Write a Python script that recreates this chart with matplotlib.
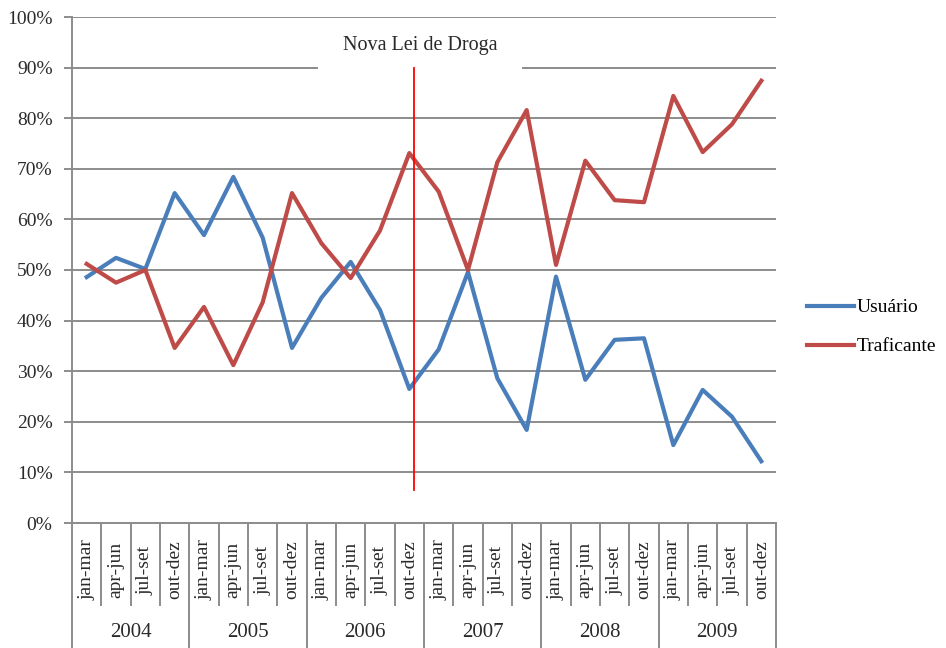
import numpy as np
import matplotlib
matplotlib.use("Agg")
import matplotlib.pyplot as plt
from matplotlib.patches import Rectangle
from matplotlib.transforms import blended_transform_factory

# data (percent)
years = ["2004", "2005", "2006", "2007", "2008", "2009"]
quarters = ["jan-mar", "apr-jun", "jul-set", "out-dez"]
usuario = [48.6, 52.4, 50.2, 65.2, 56.9, 68.4, 56.4, 34.6,
           44.5, 51.6, 42.1, 26.5, 34.3, 49.6, 28.6, 18.4,
           48.7, 28.3, 36.2, 36.5, 15.4, 26.3, 21.0, 12.2]
traficante = [51.2, 47.5, 50.0, 34.6, 42.7, 31.2, 43.6, 65.2,
              55.3, 48.4, 57.8, 73.1, 65.5, 50.0, 71.3, 81.6,
              51.0, 71.6, 63.8, 63.4, 84.4, 73.3, 78.8, 87.4]
yticks = [0, 10, 20, 30, 40, 50, 60, 70, 80, 90, 100]
law_label = "Nova Lei de Droga"
law_pos = 11.16  # just after out-dez 2006

plt.rcParams["font.family"] = ["Liberation Serif", "DejaVu Serif"]
grid_col = "#8c8c8c"
txt_col = "#2a2a2a"

fig = plt.figure(figsize=(9.46, 6.48), dpi=100)
ax = fig.add_axes([72 / 946, 125 / 648, 704 / 946, 506 / 648])

x = np.arange(len(usuario))
ax.plot(x, usuario, color="#4a7ebb", lw=3, label="Usuário", zorder=3)
ax.plot(x, traficante, color="#be4b48", lw=3, label="Traficante", zorder=3)

ax.set_xlim(-0.5, len(x) - 0.5)
ax.set_ylim(0, 100)
ax.set_yticks(yticks)
ax.set_yticklabels([f"{t}%" for t in yticks], fontsize=14, color=txt_col)
ax.set_xticks([])
ax.tick_params(axis="y", length=6, width=1.4, color=grid_col, pad=8)
ax.set_axisbelow(True)
ax.grid(axis="y", color=grid_col, lw=1.4)
for s in ["top", "right"]:
    ax.spines[s].set_visible(False)
ax.spines["left"].set_color(grid_col)
ax.spines["left"].set_linewidth(1.4)
ax.spines["bottom"].set_color(grid_col)
ax.spines["bottom"].set_linewidth(1.4)

# law annotation: white box hides part of the 90% gridline
ax.add_patch(Rectangle((7.89, 89.6), 6.95, 6.8, facecolor="white",
                       edgecolor="none", zorder=1.5))
ax.text(11.36, 94.3, law_label, ha="center", va="center", fontsize=14.5,
        color=txt_col, zorder=4)
ax.plot([law_pos, law_pos], [6.5, 90], color="#ff0000", lw=1.3, zorder=4)

# two-level category axis below the plot
tr = blended_transform_factory(ax.transData, ax.transAxes)
for i in range(len(x) + 1):
    bottom = -0.26 if i % 4 == 0 else -0.162
    ax.plot([i - 0.5, i - 0.5], [0, bottom], transform=tr, color=grid_col,
            lw=1.4, clip_on=False)
for i in range(len(x)):
    ax.text(i, -0.093, quarters[i % 4], transform=tr, rotation=90,
            ha="center", va="center", fontsize=14, color=txt_col)
for k, yr in enumerate(years):
    ax.text(4 * k + 1.5, -0.217, yr, transform=tr, ha="center", va="center",
            fontsize=15, color=txt_col)

fig.legend(loc="center left", bbox_to_anchor=(807 / 946, 1 - 327 / 648),
           frameon=False, fontsize=14, handlelength=2.4, borderpad=0,
           borderaxespad=0, handletextpad=0.15, labelspacing=1.1)

fig.savefig("out.png", dpi=100)
